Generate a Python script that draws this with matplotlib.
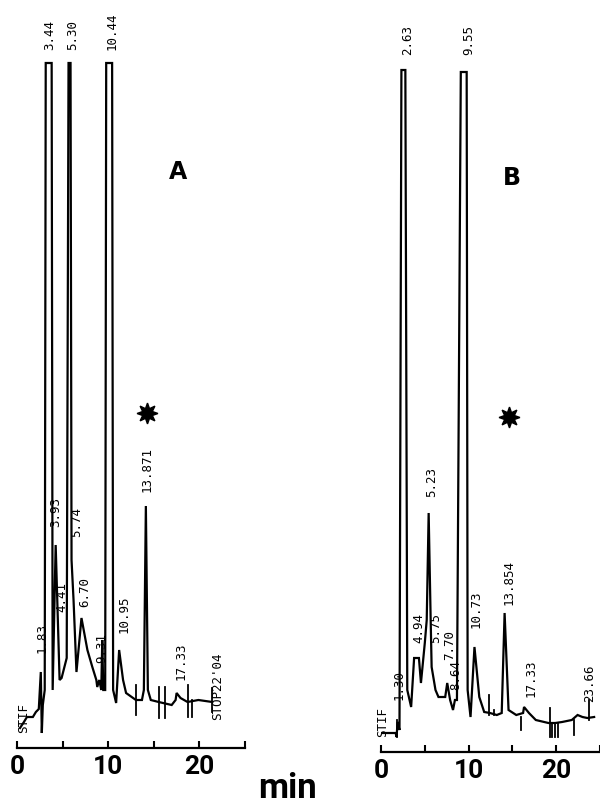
import numpy as np
import matplotlib
matplotlib.use("Agg")
import matplotlib.pyplot as plt

# chromatogram A: (time min, detector signal)
a_time = [0.33, 0.76, 1.09, 1.74, 2.07, 2.39, 2.61, 2.72, 2.83, 3.04, 3.15, 3.80,
          3.91, 4.24, 4.67, 4.89, 5.45, 5.65, 5.87, 5.98, 6.20, 6.52, 7.07, 7.72,
          8.26, 8.70, 8.80, 9.02, 9.24, 9.35, 9.46, 9.67, 9.78, 10.43, 10.54,
          10.87, 11.20, 11.63, 11.96, 13.04, 13.70, 13.91, 14.13, 14.35, 14.67,
          15.54, 16.96, 17.39, 17.50, 17.93, 18.70, 19.89, 21.41]
a_signal = [20, 26, 31, 31, 36, 39, 76, 15, 43, 58, 685, 685,
            58, 203, 68, 70, 90, 685, 685, 188, 148, 76, 130, 98,
            81, 68, 61, 68, 58, 108, 58, 58, 685, 685, 58,
            45, 98, 68, 55, 48, 48, 58, 242, 58, 48,
            46, 43, 48, 55, 50, 46, 48, 46]
a_marks = [(13.04, 33, 63), (15.54, 30, 61), (16.20, 30, 61),
           (18.70, 31, 63), (19.24, 31, 48), (21.41, 36, 60)]
a_labels = [("STIF", 0.76, 15), ("1.83", 2.72, 95), ("3.93", 4.24, 221),
            ("4.41", 4.89, 136), ("5.74", 6.52, 211), ("6.70", 7.39, 141),
            ("9.31", 9.24, 85), ("10.95", 11.74, 115), ("13.871", 14.24, 256),
            ("17.33", 17.93, 68), ("STOP22'04", 21.96, 28),
            ("3.44", 3.59, 698), ("5.30", 6.09, 698), ("10.44", 10.43, 698)]

# chromatogram B
b_time = [0.11, 1.67, 1.78, 1.89, 2.11, 2.33, 2.78, 3.00, 3.44, 3.78, 4.33, 4.56,
          5.00, 5.22, 5.44, 5.67, 5.78, 6.22, 6.56, 7.33, 7.56, 7.89, 8.22, 8.44,
          8.67, 9.11, 9.78, 9.89, 10.22, 10.67, 11.22, 11.78, 12.44, 13.22, 13.78,
          14.11, 14.56, 15.44, 16.22, 16.33, 16.89, 17.67, 19.11, 19.89, 20.67,
          21.78, 22.44, 23.00, 23.56, 24.33]
b_signal = [19, 19, 15, 30, 22, 682, 682, 62, 45, 94, 94, 69,
            109, 132, 239, 132, 85, 62, 55, 55, 69, 52, 42, 52,
            52, 680, 680, 62, 35, 105, 55, 40, 39, 37, 39,
            139, 42, 37, 39, 45, 39, 32, 29, 29, 30,
            32, 37, 35, 34, 35]
b_marks = [(1.78, 15, 32), (12.33, 37, 57), (12.89, 37, 42), (16.0, 22, 35),
           (19.33, 15, 44), (19.56, 15, 29), (19.89, 15, 29), (20.22, 15, 29),
           (22.0, 17, 32), (23.78, 32, 52)]
b_labels = [("STIF", 0.22, 15), ("1.30", 2.11, 52), ("4.94", 4.33, 109),
            ("5.23", 5.78, 255), ("5.75", 6.22, 109), ("7.70", 7.89, 92),
            ("8.64", 8.56, 62), ("10.73", 10.89, 124), ("13.854", 14.56, 147),
            ("17.33", 17.11, 55), ("23.66", 23.78, 50),
            ("2.63", 3.0, 697), ("9.55", 10.0, 697)]

W, H = 600, 809
bold_font = ["Roboto", "DejaVu Sans"]


def panel(rect_px, xmax, ymax, t, s, marks, labels, star, letter):
    x0, ybot, w = rect_px
    ax = fig.add_axes([x0 / W, (H - ybot) / H, w / W, ybot / H])
    ax.plot(t, s, color="black", lw=1.6, solid_joinstyle="miter")
    for tm, lo, hi in marks:
        ax.plot([tm, tm], [lo, hi], color="black", lw=1.3)
    for txt, tx, ty in labels:
        ax.text(tx, ty, txt, rotation=90, ha="center", va="bottom",
                family="DejaVu Sans Mono", fontsize=9, clip_on=False)
    ax.plot(star[0], star[1], marker=(8, 1, 0), ms=15, color="black")
    ax.text(letter[1], letter[2], letter[0], fontsize=17, fontweight="bold",
            ha="center", va="center", family="DejaVu Sans")
    ax.set_xlim(0, xmax)
    ax.set_ylim(0, ymax)
    for sp in ["left", "right", "top"]:
        ax.spines[sp].set_visible(False)
    ax.spines["bottom"].set_linewidth(1.6)
    ax.set_yticks([])
    ax.set_xticks([0, 10, 20])
    ax.set_xticks([5, 15, 25], minor=True)
    ax.tick_params(axis="x", which="both", direction="in", length=5, width=1.5, pad=5)
    ax.set_xticklabels(["0", "10", "20"], family=bold_font, fontsize=19,
                       fontweight="bold")
    ax.patch.set_visible(False)
    return ax


fig = plt.figure(figsize=(W / 100, H / 100), dpi=100)
panel((17, 748, 228), 24.8, 748, a_time, a_signal, a_marks, a_labels,
      (14.24, 335), ("A", 17.7, 576))
panel((381, 752, 219), 24.33, 752, b_time, b_signal, b_marks, b_labels,
      (14.56, 335), ("B", 14.89, 574))
fig.text(288 / W, 1 - 805 / H, "min", ha="center", va="bottom",
         family=bold_font, fontsize=25, fontweight="bold")
fig.savefig("out.png", dpi=100)
